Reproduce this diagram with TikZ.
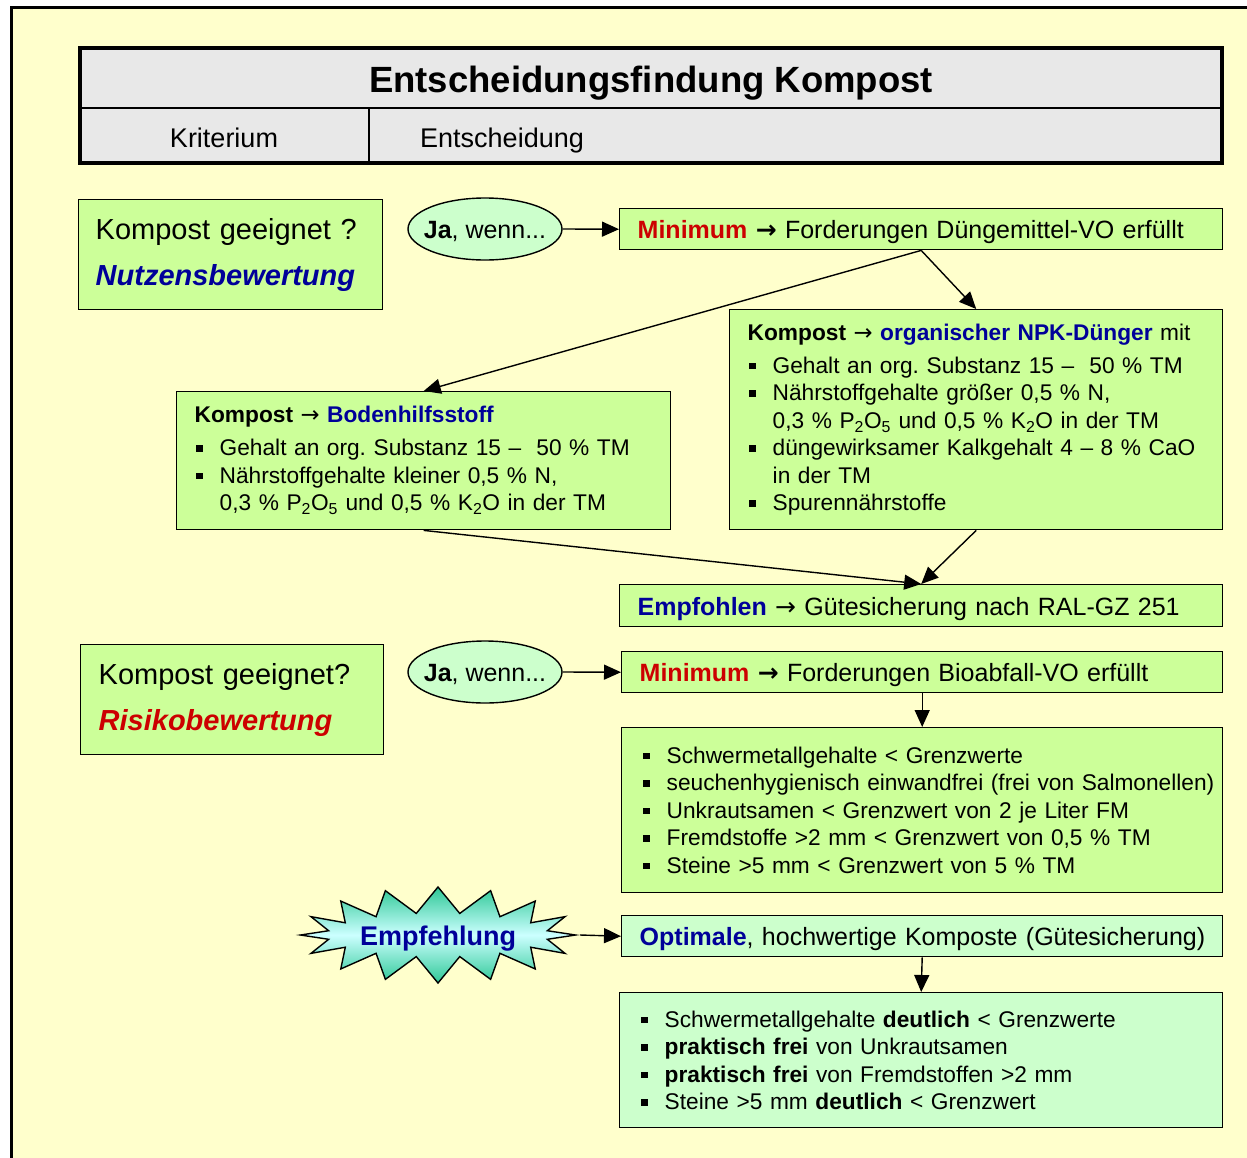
\documentclass[tikz,border=0pt]{standalone}
\usepackage{fontspec}
\setmainfont{Liberation Sans}
\newfontfamily\pfeilfont{DejaVu Sans}
\usetikzlibrary{arrows.meta,shapes.geometric,shapes.symbols}
\definecolor{bg}{HTML}{FFFFCC}
\definecolor{gruen}{HTML}{CCFF99}
\definecolor{hellgruen}{HTML}{CCFFCC}
\definecolor{grau}{HTML}{E8E8E8}
\definecolor{blau}{HTML}{000099}
\definecolor{rot}{HTML}{CC0000}
\definecolor{tuerkis}{HTML}{2EC896}
\definecolor{hellcyan}{HTML}{CCFFFF}
\newcommand{\bul}{\makebox[25pt][l]{\hspace{1.5pt}\rule[4pt]{6.5pt}{6.5pt}}}
\newcommand{\ein}{\hspace*{25pt}}
\newcommand{\pf}{{\pfeilfont →}}
\frenchspacing
\begin{document}
\begin{tikzpicture}[x=1pt,y=-1pt,
    >={Triangle[length=17pt,width=15pt]},
    box/.style={draw,line width=1.4pt,fill=gruen,anchor=north west,inner ysep=0pt,align=left},
    zeile/.style={box,inner xsep=18pt,text width=565pt,minimum height=41pt,text height=22pt,text depth=3pt,font=\fontsize{25}{30}\selectfont},
    liste/.style={box,font=\fontsize{22.7}{27.5}\selectfont},
    krit/.style={box,inner xsep=17pt,text width=270pt,minimum height=110pt,font=\fontsize{29}{46}\selectfont},
    ja/.style={ellipse,draw,line width=1.4pt,fill=hellgruen,minimum width=154pt,minimum height=62pt,inner xsep=-7pt,inner ysep=0pt,
      text height=22pt,text depth=3pt,font=\fontsize{25}{30}\selectfont},
    stern/.style={starburst,draw,line width=1.4pt,top color=tuerkis,bottom color=tuerkis,middle color=hellcyan,
      random starburst=0,starburst points=16,starburst point height=26pt,minimum width=275pt,minimum height=96pt,
      inner sep=0pt,text height=22pt,text depth=2pt,text=blau,font=\fontsize{27}{30}\selectfont\bfseries}]
  \clip (0,0) rectangle (1247,1157);
  \fill[white] (0,0) rectangle (1247,1157);
  \draw[line width=3pt,fill=bg] (11,7) rectangle (1280,1190);

  % Kopf
  \draw[line width=4pt,fill=grau] (80,48) rectangle (1222,163);
  \draw[line width=2.5pt] (80,108) -- (1222,108) (369,108) -- (369,163);
  \node[font=\fontsize{36.5}{40}\selectfont\bfseries,anchor=base] (titel) at (651,92) {Entscheidungsfindung Kompost};
  \node[font=\fontsize{27}{30}\selectfont,anchor=base] (kriterium) at (224,147) {Kriterium};
  \node[font=\fontsize{27}{30}\selectfont,anchor=base west,inner sep=0pt] (entscheidung) at (420,147) {Entscheidung};

  % Nutzen
  \node[krit] (K1) at (78,199) {Kompost geeignet ?\\\textcolor{blau}{\bfseries\itshape Nutzensbewertung}};
  \node[ja] (Ja1) at (485,229) {\textbf{Ja}, wenn...};
  \node[zeile,text width=567pt] (M1) at (619,208) {\textbf{\textcolor{rot}{Minimum} \pf} Forderungen Düngemittel-VO erfüllt};
  \node[liste,inner xsep=18pt,text width=457pt,minimum height=220pt] (NPK) at (729,309)
    {\textbf{Kompost} \pf\ \textbf{\textcolor{blau}{organischer NPK-Dünger}} mit\\[5.5pt]
     \bul Gehalt an org. Substanz 15 –\ \ 50 \% TM\\
     \bul Nährstoffgehalte größer 0,5 \% N,\\
     \ein 0,3 \% P\textsubscript{2}O\textsubscript{5} und 0,5 \% K\textsubscript{2}O in der TM\\
     \bul düngewirksamer Kalkgehalt 4 – 8 \% CaO\\
     \ein in der TM\\
     \bul Spurennährstoffe};
  \node[liste,inner xsep=18pt,text width=458pt,minimum height=138pt] (BH) at (176,391)
    {\textbf{Kompost} \pf\ \textbf{\textcolor{blau}{Bodenhilfsstoff}}\\[5.5pt]
     \bul Gehalt an org. Substanz 15 –\ \ 50 \% TM\\
     \bul Nährstoffgehalte kleiner 0,5 \% N,\\
     \ein 0,3 \% P\textsubscript{2}O\textsubscript{5} und 0,5 \% K\textsubscript{2}O in der TM};
  \node[zeile,text width=567pt,minimum height=42pt] (Empf) at (619,584) {\textbf{\textcolor{blau}{Empfohlen}} \pf\ Gütesicherung nach RAL-GZ 251};

  % Risiko
  \node[krit,inner xsep=18pt,text width=267pt] (K2) at (80,644) {Kompost geeignet?\\\textcolor{rot}{\bfseries\itshape Risikobewertung}};
  \node[ja] (Ja2) at (485,672) {\textbf{Ja}, wenn...};
  \node[zeile] (M2) at (621,651) {\textbf{\textcolor{rot}{Minimum} \pf} Forderungen Bioabfall-VO erfüllt};
  \node[liste,inner xsep=20pt,text width=561pt,minimum height=165pt] (L2) at (621,727)
    {\bul Schwermetallgehalte < Grenzwerte\\
     \mbox{\bul seuchenhygienisch einwandfrei (frei von Salmonellen)}\\
     \bul Unkrautsamen < Grenzwert von 2 je Liter FM\\
     \bul Fremdstoffe >2 mm < Grenzwert von 0,5 \% TM\\
     \bul Steine >5 mm < Grenzwert von 5 \% TM};

  % Empfehlung
  \node[stern] (Stern) at (438,935) {Empfehlung};
  \node[zeile,fill=hellgruen] (Opt) at (621,915) {\mbox{\textbf{\textcolor{blau}{Optimale}}, hochwertige Komposte (Gütesicherung)}};
  \node[liste,fill=hellgruen,inner xsep=20pt,text width=563pt,minimum height=135pt] (L3) at (619,992)
    {\bul Schwermetallgehalte \textbf{deutlich} < Grenzwerte\\
     \bul \textbf{praktisch frei} von Unkrautsamen\\
     \bul \textbf{praktisch frei} von Fremdstoffen >2 mm\\
     \bul Steine >5 mm \textbf{deutlich} < Grenzwert};

  \foreach \a/\b in {Ja1.east/M1.west, M1.south/BH.north, M1.south/NPK.north, BH.south/Empf.north,
      NPK.south/Empf.north, Ja2.east/M2.west, M2.south/L2.north, Stern.east/Opt.west, Opt.south/L3.north}
    \draw[->,line width=1.4pt] (\a) -- (\b);
\end{tikzpicture}
\end{document}
